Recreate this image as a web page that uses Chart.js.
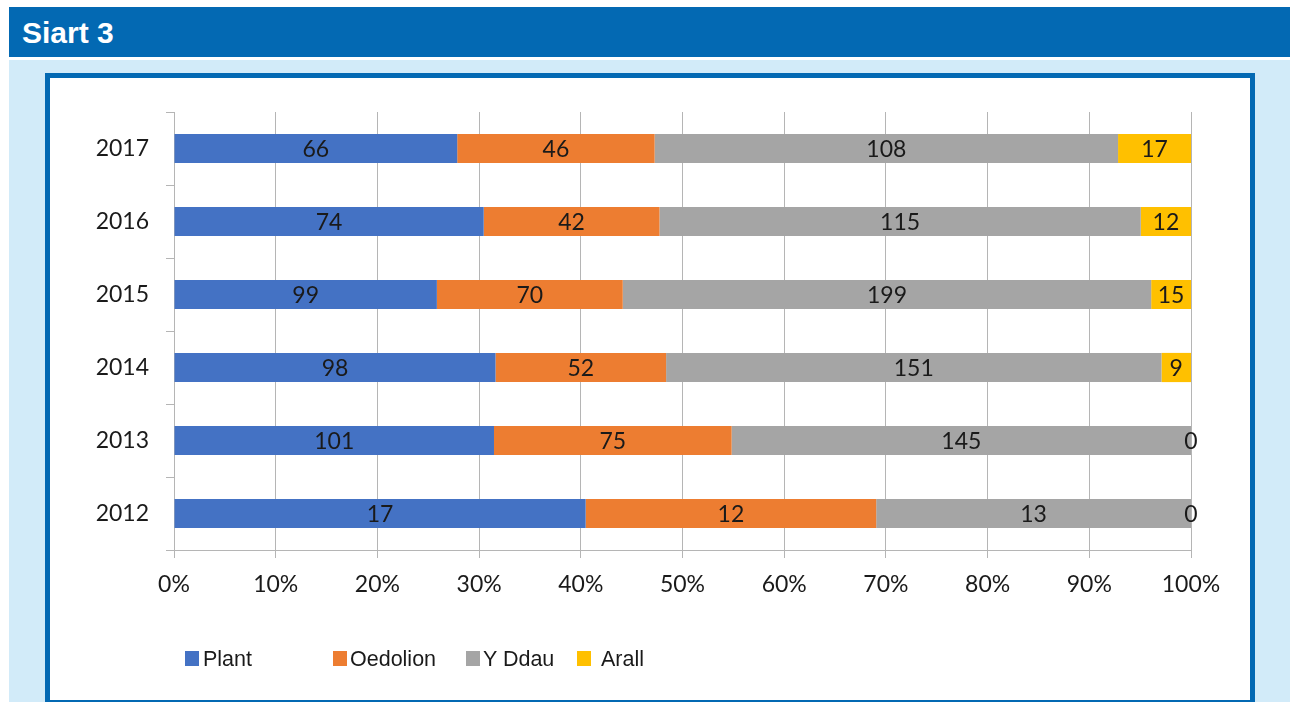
<!DOCTYPE html>
<html>
<head>
<meta charset="utf-8">
<script src="https://cdn.jsdelivr.net/npm/chart.js@4"></script>
<style>
  html, body { margin:0; padding:0; background:#ffffff; width:1290px; height:702px; overflow:hidden; }
  #header { position:absolute; left:9px; top:7px; width:1281px; height:50px; background:#0369b3; }
  #title { position:absolute; left:22px; top:7px; height:50px; line-height:52px; color:#fff;
           font-family:"Liberation Sans", Arial, sans-serif; font-weight:bold; font-size:30px; }
  #bg { position:absolute; left:9px; top:60px; width:1281px; height:642px; background:#d2ebf9; }
  #panel { position:absolute; left:45px; top:73px; width:1200px; height:622px; background:#fff;
           border:5px solid #0369b3; }
  #wrap { position:absolute; left:50px; top:78px; width:1200px; height:617px; }
  #legend { position:absolute; left:0; top:0; font-family:"Liberation Sans", Arial, sans-serif; font-size:21.5px; color:#1a1a1a; }
  .lg-box { position:absolute; width:14px; height:15px; }
  .lg-txt { position:absolute; line-height:24px; white-space:nowrap; }
</style>
</head>
<body>
<div id="header"></div>
<div id="title">Siart 3</div>
<div id="bg"></div>
<div id="panel"></div>
<div id="wrap"><canvas id="c" width="1200" height="617"></canvas></div>
<div id="legend"></div>
<script>
const years = ['2017','2016','2015','2014','2013','2012'];
const seriesNames = ['Plant','Oedolion','Y Ddau','Arall'];
const plant    = [66, 74, 99, 98, 101, 17];
const oedolion = [46, 42, 70, 52, 75, 12];
const yDdau    = [108, 115, 199, 151, 145, 13];
const arall    = [17, 12, 15, 9, 0, 0];
const xTicks = [0,10,20,30,40,50,60,70,80,90,100];
const colors = ['#4472c4','#ed7d31','#a5a5a5','#ffc000'];

const raw = [plant, oedolion, yDdau, arall];
const totals = years.map((_, i) => raw.reduce((s, arr) => s + arr[i], 0));
const pct = raw.map(arr => arr.map((v, i) => v / totals[i] * 100));

const labelPlugin = {
  id: 'barLabels',
  afterDatasetsDraw(chart) {
    const ctx = chart.ctx;
    ctx.save();
    ctx.font = '23px Lato';
    ctx.fillStyle = '#1a1a1a';
    ctx.textAlign = 'center';
    ctx.textBaseline = 'middle';
    chart.data.datasets.forEach((ds, di) => {
      chart.getDatasetMeta(di).data.forEach((el, i) => {
        const p = el.getProps(['x','base','y'], true);
        const cx = (p.x + p.base) / 2;
        ctx.fillText(String(raw[di][i]), cx, p.y + 1);
      });
    });
    ctx.restore();
  }
};

new Chart(document.getElementById('c'), {
  type: 'bar',
  data: {
    labels: years,
    datasets: seriesNames.map((n, k) => ({
      label: n, data: pct[k], backgroundColor: colors[k], borderWidth: 0,
      categoryPercentage: 1, barPercentage: 0.4
    }))
  },
  options: {
    indexAxis: 'y',
    responsive: false,
    animation: false,
    layout: { padding: { left: 0, right: 59, top: 34, bottom: 0 } },
    plugins: { legend: { display: false }, tooltip: { enabled: false } },
    scales: {
      x: {
        stacked: true, min: 0, max: 100,
        afterBuildTicks(axis) { axis.ticks = xTicks.map(v => ({ value: v })); },
        afterFit(axis) { axis.height = 145; },
        ticks: { callback: v => v + '%', font: { family: 'Lato', size: 23 }, color: '#1a1a1a', padding: 13, maxRotation: 0 },
        grid: { color: '#b5b5b5', lineWidth: 1, tickLength: 8, drawTicks: true },
        border: { color: '#b5b5b5', width: 1 }
      },
      y: {
        stacked: true,
        afterFit(axis) { axis.width = 124; },
        ticks: { font: { family: 'Lato', size: 23 }, color: '#1a1a1a', padding: 17 },
        grid: { offset: true, drawOnChartArea: false, tickLength: 8, color: '#b5b5b5' },
        border: { color: '#b5b5b5', width: 1 }
      }
    }
  },
  plugins: [labelPlugin]
});

// HTML legend built from the series names
const legendPos = [185, 333, 466, 577];
const textOff = [18, 17, 17, 24];
const lg = document.getElementById('legend');
seriesNames.forEach((n, k) => {
  const b = document.createElement('div');
  b.className = 'lg-box';
  b.style.left = legendPos[k] + 'px';
  b.style.top = '651px';
  b.style.background = colors[k];
  lg.appendChild(b);
  const t = document.createElement('div');
  t.className = 'lg-txt';
  t.style.left = (legendPos[k] + textOff[k]) + 'px';
  t.style.top = '647px';
  t.textContent = n;
  lg.appendChild(t);
});
</script>
</body>
</html>
